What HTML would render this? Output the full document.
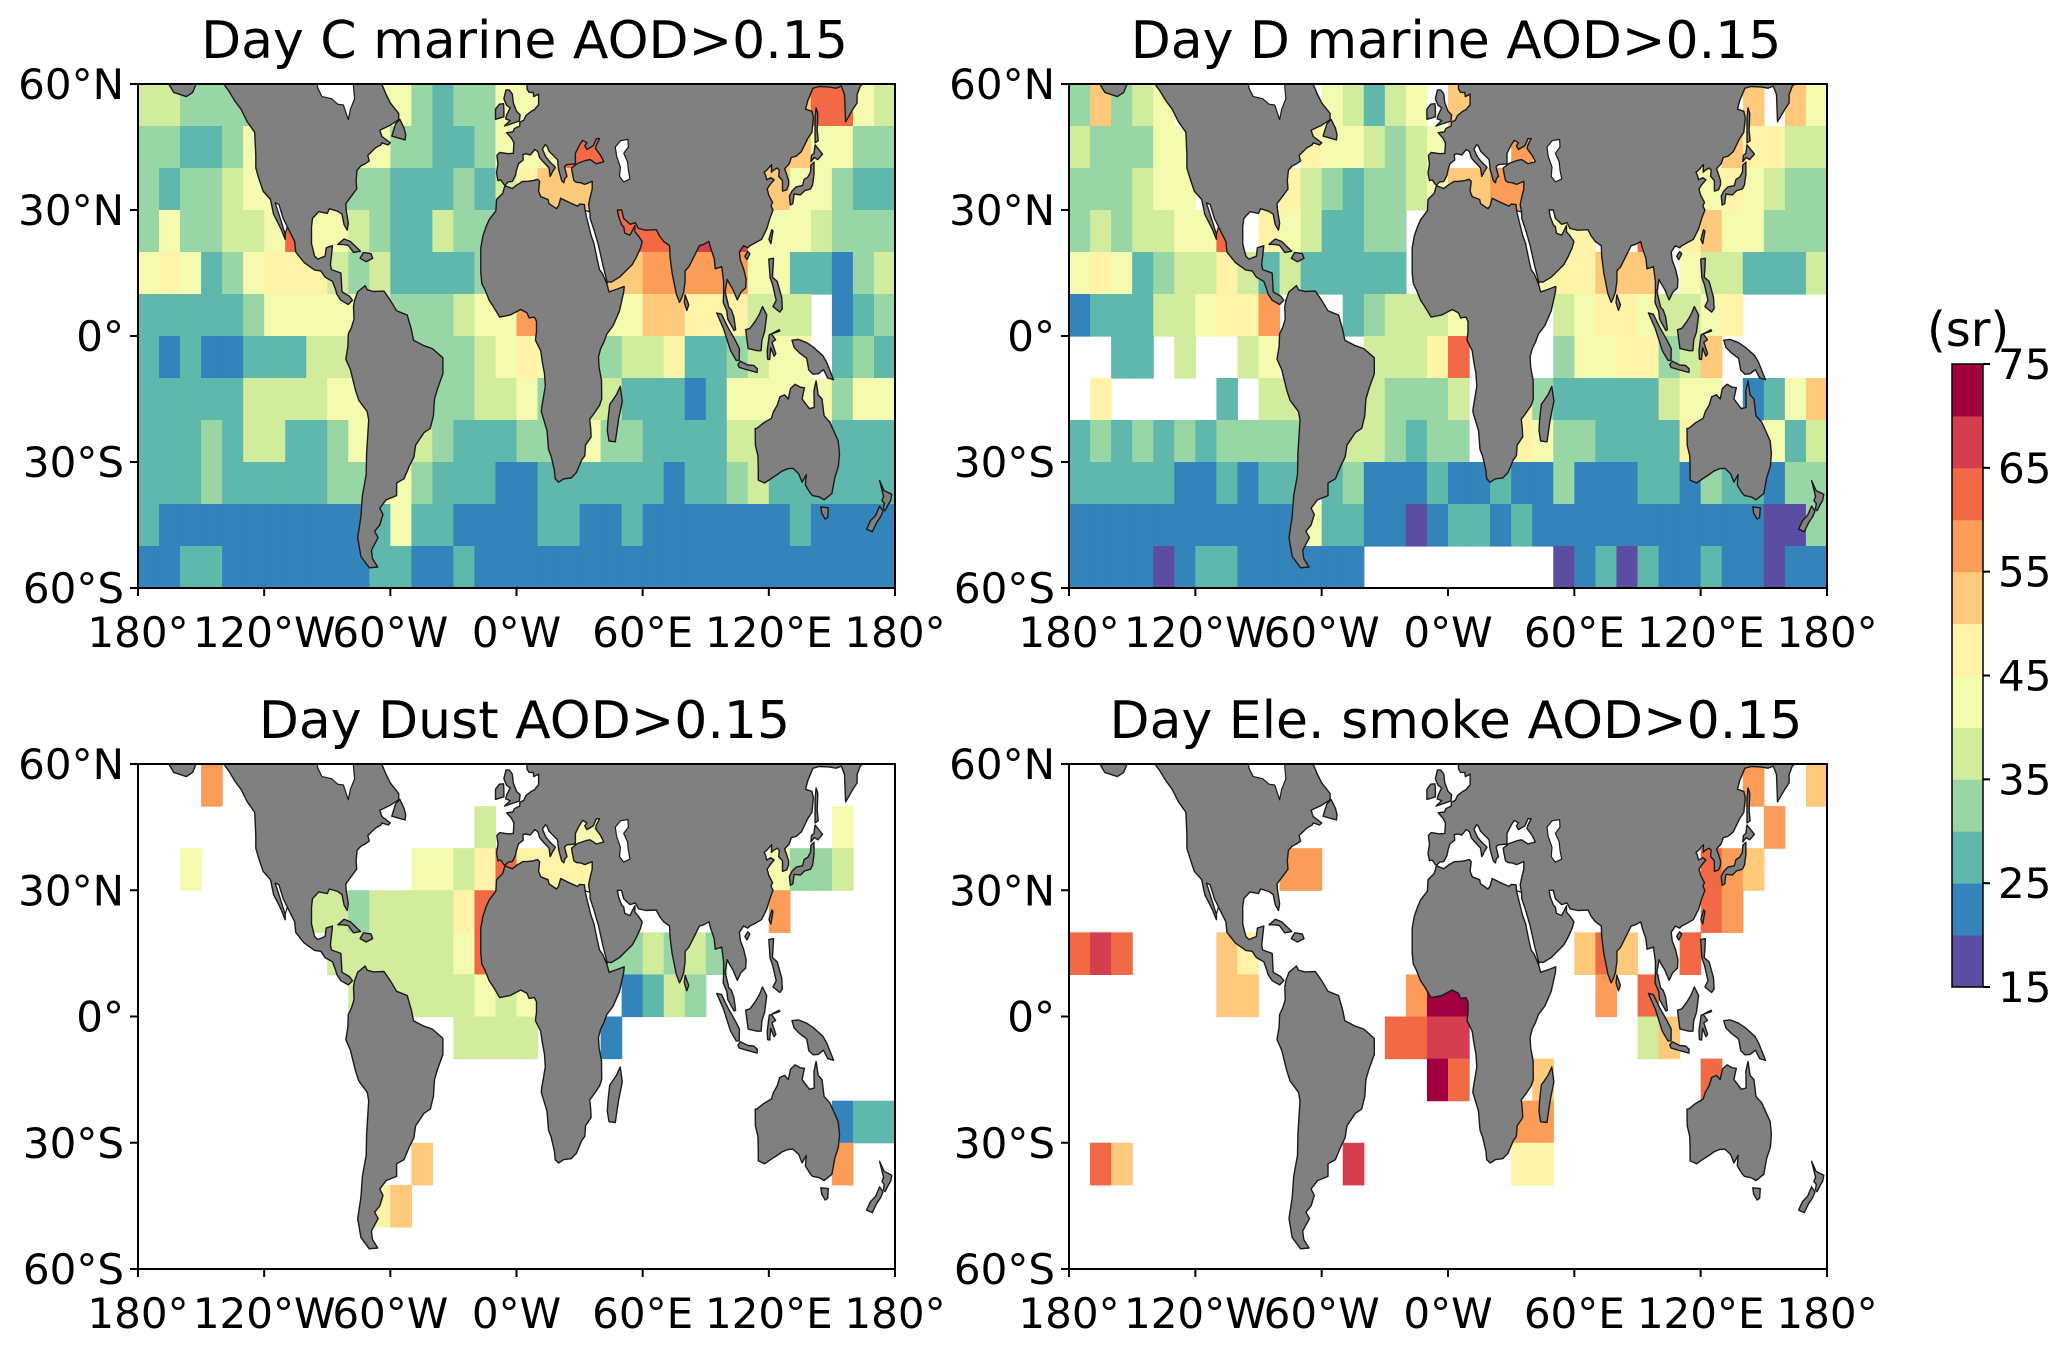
<!DOCTYPE html>
<html><head><meta charset="utf-8"><style>
html,body{margin:0;padding:0;background:#fff;}
svg{display:block;font-family:"DejaVu Sans","Liberation Sans",sans-serif;}
</style></head><body>
<svg id="fig" width="2067" height="1347" viewBox="0 0 2067 1347" xmlns="http://www.w3.org/2000/svg">
<rect x="0" y="0" width="2067" height="1347" fill="#fff"/>
</svg>
<script>
// ---- data ----
const binEdges = [15,20,25,30,35,40,45,50,55,60,65,70,75];
const binCodes = ['a','b','c','d','e','f','g','h','i','j','k','l'];
const binColors = ['#5b4ea2','#3583bb','#5fb8ab','#98d6a5','#d0ec9c','#f4fbae','#fef3a6','#fec97b','#fb9d59','#f26a45','#d53e4f','#a00040'];
const cbTicks = [15,25,35,45,55,65,75];
const latTicks = [60,30,0,-30,-60];
const latLabels = ['60°N','30°N','0°','30°S','60°S'];
const lonTicks = [-180,-120,-60,0,60,120,180];
const lonLabels = ['180°','120°W','60°W','0°W','60°E','120°E','180°'];
const titles = ['Day C marine AOD>0.15','Day D marine AOD>0.15','Day Dust AOD>0.15','Day Ele. smoke AOD>0.15'];

// rows 60N->60S, columns from 180W eastward, 10 deg cells.
// '.' = cell hidden under land (C marine: takes neighbour value), '_' = no data (white)
const gridCMarine = [
"eeddd.......fdcddff............hj.fe",
"ddccdf.....fddccdff.jj........hhffdd",
"dcddef.....dcccdceghhh.......hhffdcc",
"dfddeefjffedccedd.......j..k.fffeddd",
"fgfcdfgggedeccccd......hii.iiffccbde",
"cccccdfffffedddeffi....fhhgggeee_bcd",
"cbcbbcccee.....defgf..deegccdeff_cdc",
"ccccceeeeff..dddeefd..ecccbcfffffdff",
"cccdceeccdfeeedcccdd.fddcccceeeeeccc",
"cccdcccccddffdcccbbccccccbccdecccccc",
"cbbbbbbbbbbcfccbbbbccbbcbbbbbbbcbbbb",
"bbccbbbbbbbccbbcbbbbbbbbbbbbbbbbbbbb"
];
const gridDMarine = [
"dhdef.......fecef.h.............h.hf",
"edddff.....gffedef...i.........hggee",
"dddeff....gedcddefhhii.......ffgfedd",
"dedeeffj.gfeccdd.......fg..j.ghffddd",
"fgfcdeegececcccc......fgghhh.feeccce",
"bccceefggi...cdeeef....efggfeefg....",
"..cc.e..ef....eeegj....dffggdeh.....",
".g.....c.ee...eddde..gdccccceff.bcfh",
"cdcdcdcdddd.deedcdd..gfddccccg...fce",
"cccccbbcbcc.cdbbbcbbcbbdbbbccbdccbdd",
"bbbbbbbbbbbfccbbabccbcbbbbbbbbbbbaad",
"bbbbabccbbbbbb.........abcacbbcbbabb"
];
// sparse panels: [row, col, code]
const dustCells = [
[0,3,'i'],
[1,16,'e'],[1,20,'f'],[1,21,'f'],[1,33,'f'],
[2,2,'f'],[2,13,'f'],[2,14,'f'],[2,15,'e'],[2,16,'g'],[2,17,'j'],[2,18,'g'],[2,19,'g'],[2,20,'g'],[2,21,'g'],[2,23,'d'],[2,30,'f'],[2,31,'d'],[2,32,'d'],[2,33,'e'],
[3,8,'e'],[3,9,'e'],[3,10,'d'],[3,11,'e'],[3,12,'e'],[3,13,'e'],[3,14,'e'],[3,15,'g'],[3,16,'j'],[3,30,'i'],
[4,9,'e'],[4,10,'e'],[4,11,'e'],[4,12,'e'],[4,13,'e'],[4,14,'e'],[4,15,'f'],[4,16,'j'],[4,22,'d'],[4,23,'d'],[4,24,'e'],[4,25,'d'],[4,26,'e'],[4,27,'d'],
[5,10,'e'],[5,11,'e'],[5,12,'e'],[5,13,'e'],[5,14,'e'],[5,15,'e'],[5,16,'f'],[5,17,'e'],[5,18,'f'],[5,23,'b'],[5,24,'c'],[5,25,'e'],[5,26,'d'],
[6,15,'e'],[6,16,'e'],[6,17,'e'],[6,18,'e'],[6,22,'b'],
[8,33,'b'],[8,34,'c'],[8,35,'c'],
[9,13,'h'],[9,33,'i'],
[10,11,'g'],[10,12,'h']
];
const smokeCells = [
[0,32,'i'],[0,35,'h'],
[1,33,'i'],
[2,10,'i'],[2,11,'i'],[2,30,'j'],[2,31,'i'],[2,32,'h'],
[3,30,'j'],[3,31,'i'],
[4,0,'j'],[4,1,'k'],[4,2,'j'],[4,7,'h'],[4,8,'g'],[4,24,'h'],[4,25,'j'],[4,26,'h'],[4,29,'j'],
[5,7,'h'],[5,8,'h'],[5,16,'i'],[5,17,'l'],[5,18,'l'],[5,25,'i'],[5,27,'j'],
[6,15,'j'],[6,16,'j'],[6,17,'k'],[6,18,'k'],[6,27,'e'],[6,28,'h'],
[7,17,'l'],[7,18,'j'],[7,22,'h'],[7,30,'j'],
[8,21,'i'],[8,22,'i'],
[9,1,'j'],[9,2,'h'],[9,13,'k'],[9,21,'g'],[9,22,'g']
];

// ---- land outlines (lon,lat) ----
const LAND = {
 namerica:[[-166,60.5],[-163,58],[-157,57],[-154,58],[-152,60.5],[-140,60.5],[-137,58.5],[-134,56],[-131,54],[-128,51],[-124.5,48.5],[-124,43],[-124,40],[-122.5,37.5],[-120.5,34.5],[-117,32.5],[-115.5,29],[-112,25.5],[-110,23],[-110,24.3],[-112,27.5],[-114.7,31.7],[-113,31.3],[-111,28],[-109,26],[-105.5,22.5],[-105,20],[-101,17.5],[-96,15.7],[-93,15.5],[-91,14],[-87.5,13],[-86,11],[-85.5,10],[-83.5,8.5],[-80,7.5],[-78,8.5],[-79.5,9.5],[-83,10.5],[-83.5,15],[-88,15.8],[-88.5,17],[-87.5,21.5],[-90.5,21],[-91,19],[-94.5,18.3],[-96,19],[-97.5,22],[-97.5,26],[-97,28],[-94,29.6],[-90,29.2],[-89,30.3],[-85,29.7],[-83,29],[-82,26.5],[-80.5,25.2],[-80,26.8],[-81,30],[-81.2,31.5],[-79,33],[-76,35],[-76.3,37],[-75.8,39.5],[-74,40.5],[-72,41],[-70,41.7],[-70.7,43],[-67,44.8],[-64.5,45.5],[-64,46],[-61,45.5],[-60,46],[-64,47.5],[-65,49],[-60,50.2],[-56,51.5],[-56,53],[-60,55.5],[-62,57.5],[-64.5,60.5]],
 newfoundland:[[-59.3,47.6],[-53,46.7],[-52.7,48],[-53.5,49.5],[-55.5,51.6],[-57.5,50.5]],
 cuba:[[-85,21.8],[-82,23.1],[-79,22.5],[-74.2,20.2],[-77.5,19.9],[-80,21.6],[-82.5,21.8]],
 hispaniola:[[-74.4,18.5],[-72.8,19.9],[-69.2,19.6],[-68.4,18.5],[-71.5,17.7]],
 samerica:[[-77,8.5],[-75.5,10.5],[-72,12],[-71,11],[-68,10.6],[-63,10.7],[-60,8.5],[-57,6],[-52,5],[-50,1.5],[-49,-1],[-44,-2.3],[-40,-3],[-35,-5.2],[-35,-9],[-37.5,-12.5],[-39,-15],[-39.5,-19],[-41,-22],[-44,-23],[-48,-26],[-48.8,-28.8],[-51,-31],[-53.5,-34],[-57,-35],[-57,-38],[-62,-39],[-65,-41],[-63.5,-42.5],[-65,-45],[-67.5,-46.5],[-65.8,-48],[-69,-51],[-68.5,-53],[-66,-55],[-70,-55.2],[-74,-52.5],[-75.5,-48],[-74,-43],[-73.3,-38],[-71.5,-33],[-71.3,-28],[-70.3,-20],[-71,-18],[-75,-15.3],[-76.5,-13],[-79,-8],[-81.2,-5.5],[-80.2,-2.5],[-80,0.5],[-78.5,2],[-77.3,4],[-77.5,7]],
 africa:[[-17,21],[-17,15],[-16.5,12.5],[-15,11],[-13,8.5],[-11,7],[-8,4.5],[-3,5],[2,6.3],[5,5.5],[6,4.3],[8.5,4.5],[9.5,3.5],[9.5,1],[9,-1],[11.5,-3.5],[12.2,-6],[13.3,-9],[13.7,-12],[12,-17],[11.8,-18],[14.5,-22.5],[15.2,-27],[16.5,-28.7],[18,-32],[18.4,-34],[20,-34.8],[22.5,-34],[26,-33.8],[28.5,-32.5],[31,-29.5],[32.5,-28.5],[32.8,-26],[35.5,-24],[35.3,-22],[34.8,-19.8],[36.5,-18.7],[39.5,-16.5],[40.5,-15],[40.4,-10.5],[39.3,-7.5],[39,-5],[40,-3],[41.5,-1.5],[43,0.5],[46,2.5],[49,6],[51,10.5],[51.2,11.8],[48,11.2],[44,10.5],[43.3,11.8],[42.5,13],[41,14.8],[39.5,15.8],[38.5,18],[37.3,21],[36.9,22],[35.5,24],[34.5,26],[33.5,28],[32.6,29.9],[32.3,31.3],[30,31.4],[29,30.9],[25,31.8],[21,32.8],[20,31],[19,30.3],[15.5,31.5],[15,32.5],[11.5,33.2],[10.5,34.5],[11,36.8],[10,37.3],[8,37],[5,36.8],[3,36.8],[0,35.9],[-2,35.1],[-5.5,35.8],[-6.5,34],[-9.5,32.5],[-9.8,29.8],[-13,27.7],[-14.5,26],[-16,23.8]],
 madagascar:[[44,-25],[47,-25.2],[48.5,-20],[50.3,-15.5],[49.3,-12],[47.5,-14],[44.3,-16.3],[43.5,-20],[43.2,-22.5]],
 eurasia:[[5,60.5],[5,58.8],[6,58],[8,58],[8.2,57],[10.5,57.6],[10.5,55],[9.5,54.5],[8.6,53.9],[7,53.5],[4.5,52.5],[3.5,51.4],[1.6,50.9],[1.5,50],[-1,49.4],[-1.7,48.6],[-4.7,48.4],[-2.5,47.2],[-1.2,46],[-1.5,43.5],[-4,43.4],[-8,43.7],[-9.3,43],[-8.8,41],[-9.5,38.8],[-8.8,37],[-7.5,37.2],[-6,36.1],[-5.3,36],[-4,36.7],[-2,36.8],[-0.5,38.2],[0,39.5],[0.9,41],[3.2,41.9],[3,43.2],[4.5,43.4],[6.5,43.1],[8.7,44.4],[10.2,43.9],[11,42.5],[12.3,41.7],[15.5,40],[16,38],[16.6,38.5],[17,39],[18.5,40.2],[16,41.4],[14,42.6],[12.3,44.5],[13.7,45.6],[14.5,45.2],[15.5,44],[19.5,42],[20,39.7],[21.5,37],[22.5,36.5],[23,37.5],[24,38],[22.8,40.3],[24,40.8],[26,40.9],[28,41],[28,43.5],[30,45.5],[31.5,46.6],[33.5,46],[32.5,45.3],[33.5,44.4],[35.5,45],[36.5,45.3],[38,47],[39.5,47],[38,45.5],[37.5,44.7],[40,43],[41.5,41.5],[38,41],[35,42],[33,41.8],[29,41.1],[26.2,40],[26.5,39],[27.3,37],[28.5,36.6],[30.5,36.5],[32.5,36.1],[36,36.8],[36,35],[35,33],[34.3,31.3],[34.9,29.5],[35,28],[37,25],[39,21.5],[41,17],[43,13],[45,12.8],[49,14],[52,15.5],[55,17],[57,18.8],[59,21],[59.8,22.5],[58,23.8],[56.3,24.8],[56.3,26.3],[54,24],[51.5,24.5],[51,26],[50,26.5],[48.5,28.5],[48,30],[50,30],[51,28],[54,26.6],[56.5,27],[58,25.6],[61.5,25.2],[66.5,25.3],[68,23.8],[70,22.5],[72.8,21.5],[73,19],[74,15],[76,10],[77.5,8],[78.5,9],[79.5,10.5],[80.2,13],[80.2,15.5],[82,16.5],[84.5,19],[87,21.5],[89,21.8],[91.5,22.5],[92.3,21],[94,18.5],[94.5,16],[97.6,16.5],[98.5,13],[98.5,10],[98.3,8],[100,6],[100.5,4],[103.5,1.3],[104.2,1.5],[103.4,4.5],[102.2,6.2],[101,6.8],[100.2,8.5],[99.2,10.5],[100.2,13.5],[101,12.7],[103,11],[105,8.6],[106.7,10.4],[109,11.5],[109.2,13.5],[108,16],[106.5,18],[106,20],[108,21.5],[110,21],[111,21.5],[114,22.3],[116.5,23],[119,25.5],[120.5,28],[122,30],[121,31],[121.8,31.8],[120,33.5],[119.2,35],[120.5,36],[122.5,37.2],[121,37.7],[119,37.2],[118.5,38.2],[117.8,39],[119,39.5],[121.3,40.8],[121.2,39],[122.2,39.5],[124,40],[125,39.5],[124.7,38],[126.5,37],[126.5,34.5],[128.5,34.8],[129.4,36],[129.4,37],[128.4,38.6],[127.5,39.8],[129.7,41],[130.7,42.5],[133,42.8],[135.5,43.9],[138.5,47],[140.5,48.5],[141.2,52],[140.5,53.5],[137.5,54],[138.5,56],[141,59],[144,59.4],[148.5,59.3],[152,59],[154.5,59.5],[156,57.5],[156.5,51],[158.5,52.7],[160,54],[162,55.5],[162,57.5],[163.5,59.5],[166,60.5]],
 britain:[[-5.7,50],[1.4,51.2],[1.7,52.7],[0,53.5],[-1.5,55.5],[-2,57.6],[-3.5,58.6],[-5,58.6],[-6,56.5],[-4.8,55],[-3,54.3],[-4.5,52.8],[-5.2,51.7],[-3,51.3]],
 ireland:[[-10,51.6],[-6,52.2],[-6,54],[-6.2,55.3],[-8.2,55.2],[-10,54]],
 japan:[[130.2,31.2],[131.4,31.5],[132,33.8],[135,33.6],[137,34.6],[139.8,35],[140.8,36],[141.5,38.5],[141.5,41.4],[140,40.7],[139.8,39],[138.5,37.8],[136.8,37.3],[136,35.8],[133,35.5],[131,34.5],[129.8,33.3]],
 hokkaido:[[140,41.5],[141.6,42.5],[143.3,42],[145.5,43.3],[142,45.5],[141.5,43.5],[140.3,43]],
 sakhalin:[[142,46],[143.5,46.5],[143,49],[143.3,53],[142.5,54.3],[142,51.5]],
 taiwan:[[120.1,23],[121,22],[122,25],[121.4,25.3]],
 hainan:[[108.6,19],[110,20.1],[111,19.6],[109.6,18.2]],
 srilanka:[[79.8,8],[80.2,9.8],[81.9,7.4],[81,6.1]],
 sumatra:[[95.2,5.5],[97.5,5.2],[100.4,2.2],[104,-1],[106,-3],[105.9,-5.8],[104.5,-5.8],[101.8,-3.5],[100.2,-1],[98.5,1.7]],
 java:[[105.3,-6.8],[106.5,-6],[110,-6.9],[112.8,-7],[114.5,-7.8],[114.4,-8.7],[110,-8.1],[106,-7.5]],
 borneo:[[109,1.5],[109.6,-1],[110.2,-3],[114.5,-3.5],[116.3,-3.5],[116.7,-1],[118,1],[119,5],[117,7],[115.5,5.2],[113.5,3.5],[111,1.8]],
 sulawesi:[[119.4,-5.5],[120.4,-5.6],[120.9,-2.8],[122.5,-4.8],[123.3,-4.2],[121.5,-1.5],[123.2,-0.9],[121.2,0.5],[124.9,1.5],[125.2,1.2],[120.2,0.3],[119.2,-3.5]],
 philippines:[[120,18.3],[122.2,18.5],[122,16],[121.7,14],[124,13],[126.1,9.2],[126.4,6.5],[125.2,5.7],[122,7],[123.5,8.5],[121.8,12.2],[120.6,13.9],[120.3,16]],
 newguinea:[[131,-1],[134,-0.8],[138,-1.6],[141,-2.6],[145.7,-4.7],[147.5,-6.3],[150.8,-10.4],[148,-10],[146,-8],[143.5,-9],[141,-9.1],[139,-8.1],[138,-5.3],[134.5,-4],[132,-2.7]],
 australia:[[113.5,-22],[113.6,-26],[114.8,-28.5],[115,-31.5],[115,-34.3],[118,-35],[121.5,-33.8],[124,-33],[126.2,-32.2],[129,-31.6],[131.5,-31.5],[134.2,-32.8],[135.8,-34.8],[137.8,-33],[137.4,-35.5],[139.6,-37.3],[140.8,-38],[144,-38.3],[146.3,-39],[150,-37.5],[151.3,-33.8],[153.1,-31],[153.6,-28],[153,-25],[150.8,-22.5],[149,-20.5],[146.3,-19],[145.3,-15],[143.5,-14],[142.5,-10.7],[141.5,-13],[141.6,-17],[139.3,-17.3],[135.8,-15],[136.9,-12.3],[135,-12.2],[132.5,-11.5],[130.3,-12.5],[129.3,-15],[127.5,-14],[125.2,-14.5],[124,-16.5],[122.2,-18],[121.2,-19.6],[117.5,-20.7],[114.3,-22]],
 tasmania:[[144.7,-40.7],[148.3,-40.9],[148,-43.2],[146.8,-43.6],[145.2,-42.2]],
 nzNorth:[[172.7,-34.4],[174.8,-36.8],[178.5,-37.7],[177.9,-39.2],[176.9,-40],[175.3,-41.6],[174.5,-41.2],[174.9,-39.9],[173.8,-39.2],[174.6,-38.2]],
 nzSouth:[[172.7,-40.5],[174.3,-41.7],[173.2,-43],[171.2,-44.5],[169.2,-46.6],[166.5,-46],[168.3,-44],[170.8,-42.7]]
};
const WATER = {
 hudson:[[-95,60.5],[-94.5,59],[-92.5,57],[-88,56.5],[-85,55.2],[-82.3,55],[-80,51.5],[-79,54],[-77,56.5],[-77.7,60.5]],
 caspian:[[47,45],[49.5,46.5],[53,46.8],[53.2,45],[51,43.5],[52.8,41.5],[53.2,39.5],[54,37.4],[51,36.7],[49,38],[49.4,40.2],[47.6,42.8]],
 redsea:[[32.6,29.9],[34.9,29.5],[35,28],[37,25],[39,21.5],[41,17],[43,13],[43.3,12.6],[42.5,13],[41,14.8],[39.5,15.8],[38.5,18],[37.3,21],[36.9,22],[35.5,24],[34.5,26],[33.5,28]],
 gulfCal:[[-114.7,31.7],[-112,27.5],[-110,24.3],[-109,26],[-111,28],[-113,31.3]]
};

// ---- drawing ----
const NS='http://www.w3.org/2000/svg';
const svg=document.getElementById('fig');
function mk(tag,attrs,parent){const e=document.createElementNS(NS,tag);for(const k in attrs)e.setAttribute(k,attrs[k]);(parent||svg).appendChild(e);return e;}
function colorOf(code){const i=binCodes.indexOf(code);return i<0?null:binColors[i];}

const panels=[
 {x0:138,x1:895,y0:84,y1:588,name:'c-marine'},
 {x0:1069,x1:1827,y0:84,y1:588,name:'d-marine'},
 {x0:138,x1:895,y0:764,y1:1269,name:'dust'},
 {x0:1069,x1:1827,y0:764,y1:1269,name:'elevated-smoke'}
];

function cellsFromGrid(grid,fillHidden){
  const out=[];
  grid.forEach((rowRaw,r)=>{
    const row=rowRaw.replace(/ /g,'').padEnd(36,'.').slice(0,36);
    for(let c=0;c<36;c++){
      let ch=row[c];
      if(ch==='.'&&fillHidden){
        for(let d=1;d<36;d++){
          const L=row[c-d],R=row[c+d];
          if(L&&colorOf(L)){ch=L;break;}
          if(R&&colorOf(R)){ch=R;break;}
        }
      }
      if(colorOf(ch))out.push([r,c,ch]);
    }
  });
  return out;
}
const panelCells=[cellsFromGrid(gridCMarine,true),cellsFromGrid(gridDMarine,false),dustCells,smokeCells];

panels.forEach((p,pi)=>{
  const W=p.x1-p.x0,H=p.y1-p.y0;
  const xs=lon=>p.x0+(lon+180)/360*W;
  const ys=lat=>p.y0+(60-lat)/120*H;
  const g=mk('g',{});
  
  
  const cp=mk('clipPath',{id:'clip'+pi},g);
  mk('rect',{x:p.x0,y:p.y0,width:W,height:H},cp);
  const inner=mk('g',{'clip-path':'url(#clip'+pi+')'},g);
  const cg=mk('g',{},inner);
  
  
  panelCells[pi].forEach(([r,c,code])=>{
    const lon0=-180+c*10,lat0=60-r*10;
    const x=xs(lon0),y=ys(lat0);
    const rc=mk('rect',{x:x.toFixed(2),y:y.toFixed(2),width:(xs(lon0+10)-x+0.6).toFixed(2),height:(ys(lat0-10)-y+0.6).toFixed(2),fill:colorOf(code)},cg);
    
    
  });
  const lg=mk('g',{},inner);
  
  
  const pathOf=pts=>'M'+pts.map(q=>xs(q[0]).toFixed(1)+','+ys(q[1]).toFixed(1)).join('L')+'Z';
  for(const k in LAND){
    const pe=mk('path',{d:pathOf(LAND[k]),fill:'#808080',stroke:'#1a1a1a','stroke-width':'1.4','stroke-linejoin':'round'},lg);
    
    
  }
  for(const k in WATER){
    const we=mk('path',{d:pathOf(WATER[k]),fill:'#ffffff',stroke:'#1a1a1a','stroke-width':'1.2','stroke-linejoin':'round'},lg);
    
    
  }
  const fr=mk('rect',{x:p.x0,y:p.y0,width:W,height:H,fill:'none',stroke:'#000','stroke-width':'2'},g);
  
  
  latTicks.forEach((lat,i)=>{
    const y=ys(lat);
    mk('line',{x1:p.x0-8,x2:p.x0,y1:y,y2:y,stroke:'#000','stroke-width':'2'},g);
    const t=mk('text',{x:p.x0-14,y:y+15,'text-anchor':'end','font-size':'42',fill:'#000'},g);
    t.textContent=latLabels[i];
    
    
  });
  lonTicks.forEach((lon,i)=>{
    const x=xs(lon);
    mk('line',{x1:x,x2:x,y1:p.y1,y2:p.y1+8,stroke:'#000','stroke-width':'2'},g);
    const t=mk('text',{x:x,y:p.y1+59,'text-anchor':'middle','font-size':'42',fill:'#000'},g);
    t.textContent=lonLabels[i];
    
    
  });
  const tt=mk('text',{x:(p.x0+p.x1)/2+8,y:p.y0-26,'text-anchor':'middle','font-size':'52',fill:'#000'},g);
  tt.textContent=titles[pi];
  
  
});

// colorbar
const cb={x0:1952,x1:1983,y0:364,y1:987};
const cbg=mk('g',{});


const vy=v=>cb.y1-(v-binEdges[0])/(binEdges[binEdges.length-1]-binEdges[0])*(cb.y1-cb.y0);
for(let i=0;i<binColors.length;i++){
  const y0=vy(binEdges[i+1]),y1=vy(binEdges[i]);
  const r=mk('rect',{x:cb.x0,y:y0,width:cb.x1-cb.x0,height:y1-y0+0.5,fill:binColors[i]},cbg);
  
  
}
mk('rect',{x:cb.x0,y:cb.y0,width:cb.x1-cb.x0,height:cb.y1-cb.y0,fill:'none',stroke:'#000','stroke-width':'1.5'},cbg);
cbTicks.forEach(v=>{
  const y=vy(v);
  mk('line',{x1:cb.x1,x2:cb.x1+7,y1:y,y2:y,stroke:'#000','stroke-width':'2'},cbg);
  const t=mk('text',{x:1998,y:y+15,'font-size':'42',fill:'#000'},cbg);
  t.textContent=String(v);
  
  
});
const ul=mk('text',{x:1927,y:346,'font-size':'48',fill:'#000'},cbg);
ul.textContent='(sr)';


</script>
</body></html>
